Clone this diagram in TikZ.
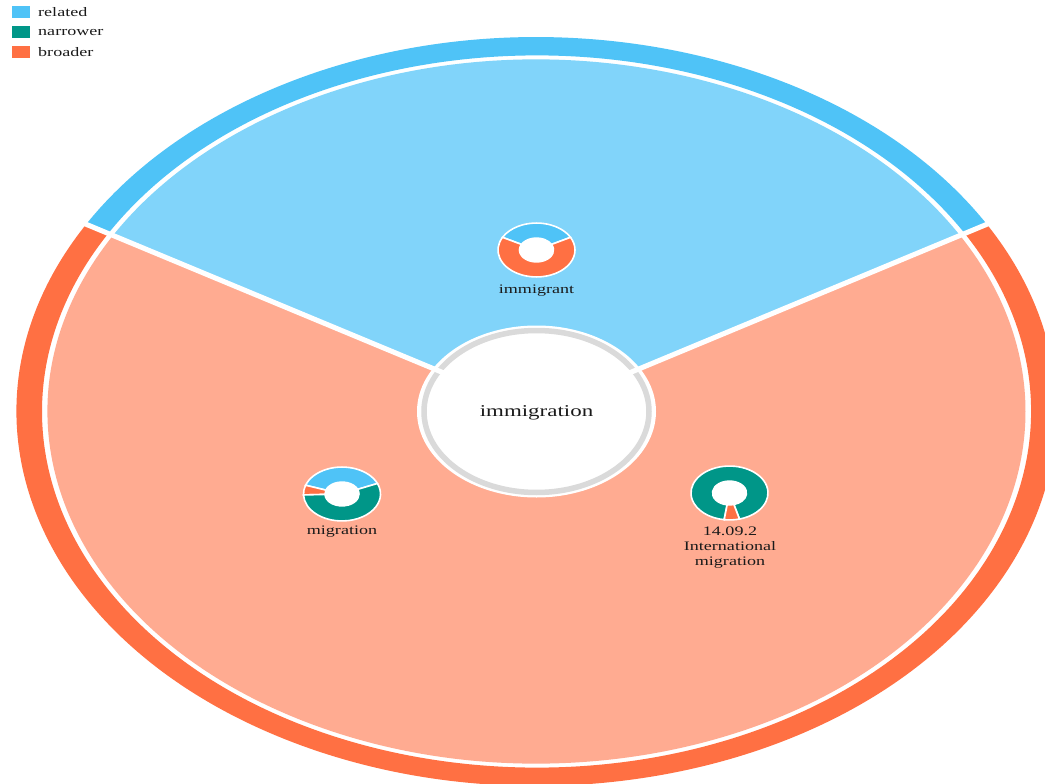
\documentclass[tikz,border=0pt]{standalone}
\usepackage{fontspec}
\setmainfont{Liberation Serif}
\newfontfamily\labfont[FakeStretch=1.39]{Liberation Serif}
\definecolor{relring}{HTML}{4FC3F7}
\definecolor{relfill}{HTML}{81D4FA}
\definecolor{narr}{HTML}{009688}
\definecolor{broring}{HTML}{FF7043}
\definecolor{brofill}{HTML}{FFAB91}
\definecolor{greyring}{HTML}{DADADA}
\definecolor{txt}{HTML}{1A1A1A}
\tikzset{
  lab/.style={font=\labfont\fontsize{13}{15}\selectfont, text=txt, inner sep=0pt, align=center},
  biglab/.style={font=\labfont\fontsize{16.5}{19}\selectfont, text=txt, inner sep=0pt},
  legsq/.style={minimum width=18pt, minimum height=12pt, inner sep=0pt},
  gap/.style={white, line width=5pt},
}
% sector of an elliptic annulus: #1 colour, #2 start, #3 end, #4 inner r, #5 outer r, #6 y factor
\newcommand{\annsec}[6]{%
  \fill[#1] (#2:#5) arc[start angle=#2, end angle=#3, x radius=#5pt, y radius=#6*#5pt]
     -- (#3:#4) arc[start angle=#3, end angle=#2, x radius=#4pt, y radius=#6*#4pt] -- cycle;}
\newcommand{\dseg}[3]{%
  \filldraw[fill=#1, draw=white, line width=1.6pt] (#2:38.5) arc[start angle=#2, end angle=#3, x radius=38.5pt, y radius=26.95pt]
     -- (#3:17) arc[start angle=#3, end angle=#2, x radius=17pt, y radius=11.9pt] -- cycle;}
\newcommand{\dhole}{\fill[white] (0,0) ellipse[x radius=17pt, y radius=11.9pt];}
\begin{document}
\begin{tikzpicture}[x=1pt,y=-1pt]
\useasboundingbox (0,0) rectangle (1045,784);
\fill[white] (0,0) rectangle (1045,784);
\coordinate (C) at (536.5,411.5);
\coordinate (D1) at (536.5,250);
\coordinate (D2) at (342,494);
\coordinate (D3) at (729.5,493);
% big sunburst
\begin{scope}[shift={(C)}, x=1pt, y=0.72pt]
  \fill[relfill] (0,0) -- (30:489) arc[start angle=30, end angle=150, x radius=489pt, y radius=352.08pt] -- cycle;
  \fill[brofill] (0,0) -- (150:489) arc[start angle=150, end angle=390, x radius=489pt, y radius=352.08pt] -- cycle;
  \annsec{relring}{30}{150}{494.5}{520}{0.72}
  \annsec{broring}{150}{390}{494.5}{520}{0.72}
  \fill[white] (0,0) ellipse[x radius=119.5pt, y radius=86pt];
  \draw[greyring, line width=5.5pt] (0,0) ellipse[x radius=112.5pt, y radius=81pt];
  \coordinate (r1) at (30:95);
  \coordinate (r1e) at (30:535);
  \coordinate (r2) at (150:95);
  \coordinate (r2e) at (150:535);
  \draw[gap] (r1) -- (r1e);
  \draw[gap] (r2) -- (r2e);
\end{scope}
\node[biglab] (center) at (536.5,413) {immigration};
% small donuts
\begin{scope}[shift={(D1)}, x=1pt, y=0.70pt]
  \dseg{relring}{28}{152}
  \dseg{broring}{152}{388}
  \dhole
\end{scope}
\begin{scope}[shift={(D2)}, x=1pt, y=0.70pt]
  \dseg{relring}{23}{161}
  \dseg{broring}{161}{182}
  \dseg{narr}{182}{383}
  \dhole
\end{scope}
\begin{scope}[shift={(D3)}, x=1pt, y=0.70pt]
  \dseg{narr}{-75}{262}
  \dseg{broring}{262}{285}
  \dhole
\end{scope}
\node[lab] (l1) at (536.5,291) {immigrant};
\node[lab] (l2) at (342,532) {migration};
\node[lab, anchor=north] (l3) at (730,527) {14.09.2\\International\\migration};
% legend
\node[legsq, fill=relring] (s1) at (21,12) {};
\node[legsq, fill=narr] (s2) at (21,32) {};
\node[legsq, fill=broring] (s3) at (21,52) {};
\node[lab, anchor=west] (t1) at (38,12.5) {related};
\node[lab, anchor=west] (t2) at (38,32.5) {narrower};
\node[lab, anchor=west] (t3) at (38,52.5) {broader};
\end{tikzpicture}
\end{document}
